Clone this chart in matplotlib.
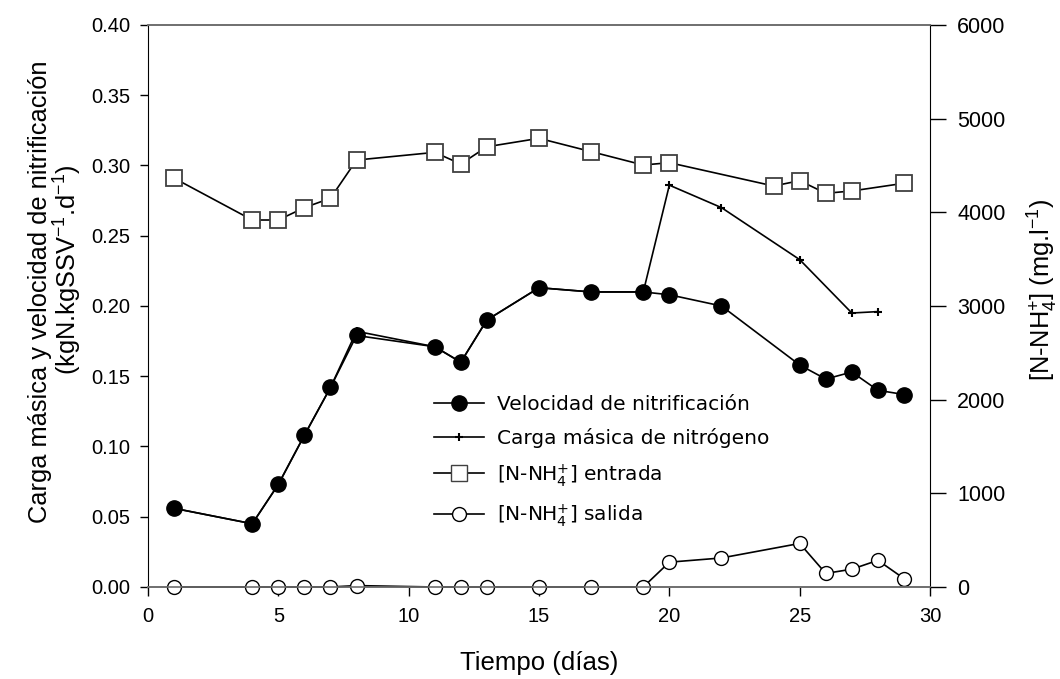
import matplotlib
matplotlib.use("Agg")
import matplotlib.pyplot as plt
from matplotlib.lines import Line2D

plt.rcParams["font.family"] = ["Liberation Sans", "DejaVu Sans"]
plt.rcParams["mathtext.default"] = "regular"

# velocidad de nitrificacion (left axis)
vel_days = [1, 4, 5, 6, 7, 8, 11, 12, 13, 15, 17, 19, 20, 22, 25, 26, 27, 28, 29]
vel_vals = [0.056, 0.045, 0.073, 0.108, 0.142, 0.179, 0.171, 0.160, 0.190, 0.213,
            0.210, 0.210, 0.208, 0.200, 0.158, 0.148, 0.153, 0.140, 0.137]

# carga masica de nitrogeno (left axis)
carga_days = [1, 4, 5, 6, 7, 8, 11, 12, 13, 15, 17, 19, 20, 22, 25, 27, 28]
carga_vals = [0.056, 0.045, 0.073, 0.108, 0.142, 0.182, 0.171, 0.160, 0.190, 0.213,
              0.210, 0.210, 0.286, 0.270, 0.233, 0.195, 0.196]

# [N-NH4+] entrada (right axis)
ent_days = [1, 4, 5, 6, 7, 8, 11, 12, 13, 15, 17, 19, 20, 24, 25, 26, 27, 29]
ent_vals = [4365, 3918, 3918, 4050, 4150, 4558, 4640, 4516, 4700, 4790,
            4648, 4505, 4530, 4281, 4338, 4203, 4228, 4310]

# [N-NH4+] salida (right axis)
sal_days = [1, 4, 5, 6, 7, 8, 11, 12, 13, 15, 17, 19, 20, 22, 25, 26, 27, 28, 29]
sal_vals = [0, 0, 0, 0, 0, 15, 0, 0, 0, 0, 0, 0, 265, 310, 465, 145, 190, 285, 90]

W, H = 1060, 679
fig = plt.figure(figsize=(W / 100, H / 100), dpi=100)
ax = fig.add_axes([0.1396, 0.1355, 0.7378, 0.8277])
ax2 = ax.twinx()

lw = 1.2
ax.plot(vel_days, vel_vals, color="black", lw=lw, marker="o", ms=11,
        mfc="black", mec="black", zorder=3)
ax.plot(carga_days, carga_vals, color="black", lw=lw, marker="+", ms=6,
        mew=1.5, zorder=2)
ax2.plot(ent_days, ent_vals, color="black", lw=lw, marker="s", ms=11,
         mfc="white", mec="#404040", mew=1.3, clip_on=False)
ax2.plot(sal_days, sal_vals, color="black", lw=lw, marker="o", ms=10,
         mfc="white", mec="black", mew=1.0, clip_on=False)

ax.set_xlim(0, 30)
ax.set_ylim(0, 0.40)
ax2.set_ylim(0, 6000)
ax.set_xticks(range(0, 31, 5))
ax.set_yticks([i * 0.05 for i in range(9)])
ax.set_yticklabels([f"{i * 0.05:.2f}" for i in range(9)])
ax2.set_yticks(range(0, 6001, 1000))

gray = "#6e6e6e"
for a in (ax, ax2):
    a.spines["top"].set_color(gray)
    a.spines["bottom"].set_color(gray)
    a.spines["top"].set_linewidth(1.2)
    a.spines["bottom"].set_linewidth(1.2)
ax2.spines["left"].set_visible(False)
ax.spines["right"].set_visible(False)
ax.tick_params(axis="y", direction="out", length=6, width=1, labelsize=14.5, pad=7)
ax.tick_params(axis="x", direction="out", length=6.5, width=1, labelsize=14.5, pad=8)
ax2.tick_params(axis="y", direction="out", length=11.5, width=1, labelsize=15.5, pad=8)

ax.set_xlabel("Tiempo (días)", fontsize=18.5, labelpad=18)

# y labels placed by hand (they sit a bit above the axis centre in the original)
fig.text(40 / W, 1 - 292 / H, "Carga másica y velocidad de nitrificación",
         rotation=90, ha="center", va="center", fontsize=18.3)
fig.text(68 / W, 1 - 270 / H, "(kgN.kgSSV$^{-1}$.d$^{-1}$)",
         rotation=90, ha="center", va="center", fontsize=18.3)
fig.text(1043 / W, 1 - 290 / H, "[N-NH$_4^{+}$] (mg.l$^{-1}$)",
         rotation=90, ha="center", va="center", fontsize=18.3)

handles = [
    Line2D([], [], color="black", lw=lw, marker="o", ms=11, mfc="black"),
    Line2D([], [], color="black", lw=lw, marker="+", ms=6, mew=1.5),
    Line2D([], [], color="black", lw=lw, marker="s", ms=11, mfc="white", mec="#404040"),
    Line2D([], [], color="black", lw=lw, marker="o", ms=10, mfc="white"),
]
labels = [
    "Velocidad de nitrificación",
    "Carga másica de nitrógeno",
    "[N-NH$_4^{+}$] entrada",
    "[N-NH$_4^{+}$] salida",
]
fig.legend(handles, labels, loc="center left", bbox_to_anchor=(0.392, 1 - 462 / H),
           frameon=False, prop={"family": "DejaVu Sans", "size": 14.5},
           handlelength=2.5, labelspacing=0.7, handletextpad=0.65)

fig.savefig("out.png", dpi=100)
